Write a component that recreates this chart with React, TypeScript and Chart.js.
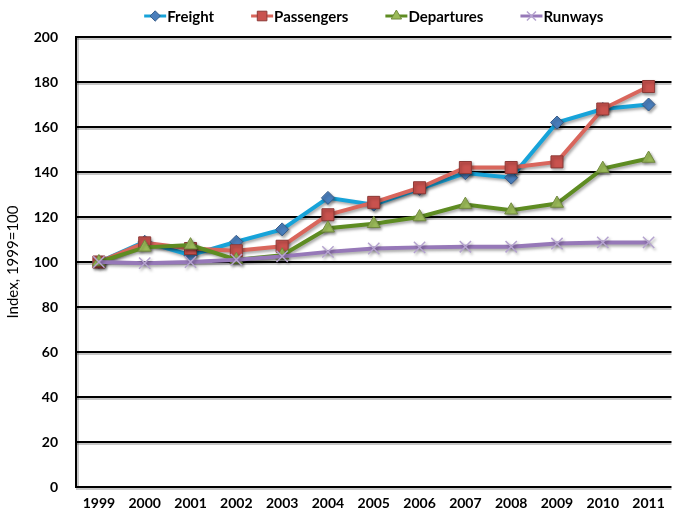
import React, { useEffect, useRef } from "react";
import { Chart, registerables } from "chart.js";
import { drawPoint } from "chart.js/helpers";

Chart.register(...registerables);

// Index values, 1999 = 100
const years = ["1999", "2000", "2001", "2002", "2003", "2004", "2005", "2006", "2007", "2008", "2009", "2010", "2011"];
const freight = [100, 109, 103, 109, 114.5, 128.5, 125.5, 132.5, 139.5, 137.5, 162, 168, 170];
const passengers = [100, 108.5, 106, 105, 107, 121, 126.5, 133, 142, 142, 144.5, 168, 178];
const departures = [100, 106.5, 107.5, 101, 103, 115, 117, 120, 125.5, 123, 126, 141.5, 146];
const runways = [100, 99.5, 100, 101, 102.5, 104.5, 106, 106.5, 106.8, 106.8, 108.2, 108.7, 108.7];

const yMin = 0;
const yMax = 200;
const yStep = 20;
const yTitle = "Index, 1999=100";

const FONT = "Lato, 'Open Sans', sans-serif";

type SeriesStyle = {
  label: string;
  data: number[];
  line: string;
  fill: string;
  edge: string;
  shape: string;
  radius: number;
  order: number;
};

const series: SeriesStyle[] = [
  { label: "Freight", data: freight, line: "#17A3D9", fill: "#4A7EBB", edge: "#385D8A", shape: "rectRot", radius: 6.5, order: 4 },
  { label: "Passengers", data: passengers, line: "#D9665C", fill: "#C9524E", edge: "#8C3A37", shape: "rect", radius: 8.5, order: 3 },
  { label: "Departures", data: departures, line: "#5E8C22", fill: "#9BBB59", edge: "#71893F", shape: "triangle", radius: 7.5, order: 2 },
  { label: "Runways", data: runways, line: "#9678B8", fill: "#B5A3CF", edge: "#B5A3CF", shape: "crossRot", radius: 8, order: 1 },
];

// Horizontal gridlines and the left axis line, each with a soft drop shadow
const gridPlugin = {
  id: "shadowGrid",
  beforeDatasetsDraw(chart: any) {
    const { ctx, chartArea } = chart;
    const y = chart.scales.y;
    ctx.save();
    ctx.lineCap = "butt";
    y.ticks.forEach((t: any) => {
      const py = Math.round(y.getPixelForValue(t.value));
      ctx.strokeStyle = "rgba(0,0,0,0.22)";
      ctx.lineWidth = 2;
      ctx.beginPath();
      ctx.moveTo(chartArea.left, py + 2);
      ctx.lineTo(chartArea.right, py + 2);
      ctx.stroke();
      ctx.strokeStyle = "#000";
      ctx.lineWidth = 2;
      ctx.beginPath();
      ctx.moveTo(chartArea.left, py);
      ctx.lineTo(chartArea.right, py);
      ctx.stroke();
    });
    ctx.strokeStyle = "rgba(0,0,0,0.22)";
    ctx.lineWidth = 2;
    ctx.beginPath();
    ctx.moveTo(chartArea.left + 2, chartArea.top);
    ctx.lineTo(chartArea.left + 2, chartArea.bottom + 1);
    ctx.stroke();
    ctx.strokeStyle = "#000";
    ctx.beginPath();
    ctx.moveTo(chartArea.left, chartArea.top - 1);
    ctx.lineTo(chartArea.left, chartArea.bottom + 1);
    ctx.stroke();
    ctx.restore();

    // shadow under the series lines and markers
    ctx.save();
    ctx.shadowColor = "rgba(0,0,0,0.35)";
    ctx.shadowBlur = 3;
    ctx.shadowOffsetX = 1.5;
    ctx.shadowOffsetY = 2;
  },
  afterDatasetsDraw(chart: any) {
    chart.ctx.restore();
  },
};

// Legend row along the top: short line with the marker, then the name
const legendPlugin = {
  id: "lineLegend",
  afterDraw(chart: any) {
    const { ctx, chartArea } = chart;
    ctx.save();
    ctx.font = `bold 15px ${FONT}`;
    const sw = 22;
    const gap = 1;
    const spacing = 37;
    const widths = series.map((s) => ctx.measureText(s.label).width);
    const total = widths.reduce((a, w) => a + sw + gap + w, 0) + spacing * (series.length - 1);
    let x = (chartArea.left + chartArea.right) / 2 - total / 2;
    const y = 16;
    series.forEach((s, i) => {
      ctx.strokeStyle = s.line;
      ctx.lineWidth = 3;
      ctx.beginPath();
      ctx.moveTo(x, y);
      ctx.lineTo(x + sw, y);
      ctx.stroke();
      ctx.fillStyle = s.fill;
      ctx.strokeStyle = s.edge;
      ctx.lineWidth = s.shape === "crossRot" ? 1.5 : 1;
      drawPoint(ctx, { pointStyle: s.shape as any, rotation: 0, radius: s.radius * 0.8, borderWidth: ctx.lineWidth }, x + sw / 2, y);
      ctx.fillStyle = "#000";
      ctx.textBaseline = "middle";
      ctx.textAlign = "left";
      ctx.fillText(s.label, x + sw + gap, y + 1);
      x += sw + gap + widths[i] + spacing;
    });
    ctx.restore();
  },
};

export default function App() {
  const ref = useRef<HTMLCanvasElement | null>(null);

  useEffect(() => {
    if (!ref.current) return;
    const chart = new Chart(ref.current, {
      type: "line",
      data: {
        labels: years,
        datasets: series.map((s) => ({
          label: s.label,
          data: s.data,
          borderColor: s.line,
          backgroundColor: s.fill,
          borderWidth: 4,
          tension: 0,
          fill: false,
          order: s.order,
          pointStyle: s.shape as any,
          pointRadius: s.radius,
          pointHoverRadius: s.radius,
          pointBackgroundColor: s.fill,
          pointBorderColor: s.edge,
          pointBorderWidth: s.shape === "crossRot" ? 1.5 : 1,
        })),
      },
      options: {
        animation: false,
        responsive: false,
        devicePixelRatio: 1,
        events: [],
        layout: { padding: { top: 37, left: 0, right: 0, bottom: 0 } },
        plugins: {
          legend: { display: false },
          tooltip: { enabled: false },
        },
        scales: {
          x: {
            offset: true,
            grid: { display: false, drawTicks: false },
            border: { display: false },
            ticks: {
              color: "#000",
              font: { family: FONT, size: 14, weight: "bold" },
              padding: 8,
              maxRotation: 0,
              autoSkip: false,
            },
            afterFit: (scale: any) => {
              scale.height = 31;
            },
          },
          y: {
            min: yMin,
            max: yMax,
            grid: { display: false, drawTicks: false },
            border: { display: false },
            ticks: {
              stepSize: yStep,
              color: "#000",
              font: { family: FONT, size: 14, weight: "bold" },
              padding: 18,
            },
            title: {
              display: true,
              text: yTitle,
              color: "#000",
              font: { family: FONT, size: 15, weight: "normal" },
              padding: { top: 4, bottom: 0 },
            },
            afterFit: (scale: any) => {
              scale.width = 76;
            },
          },
        },
      },
      plugins: [gridPlugin, legendPlugin],
    });
    return () => chart.destroy();
  }, []);

  return (
    <div
      style={{
        position: "fixed",
        left: 0,
        top: 0,
        width: 678,
        height: 518,
        overflow: "hidden",
        background: "#fff",
      }}
    >
      <canvas ref={ref} width={681} height={518} style={{ display: "block" }} />
    </div>
  );
}
